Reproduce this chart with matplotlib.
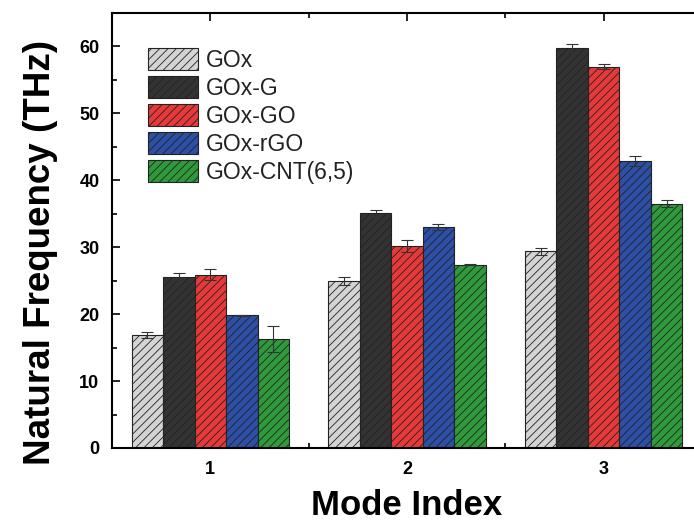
import numpy as np
import matplotlib
matplotlib.use('Agg')
import matplotlib.pyplot as plt
from matplotlib.ticker import MultipleLocator

plt.rcParams['font.family'] = ['Liberation Sans', 'DejaVu Sans']
plt.rcParams['hatch.linewidth'] = 0.6
plt.rcParams['hatch.color'] = '#222222'

modes = [1, 2, 3]
series = ['GOx', 'GOx-G', 'GOx-GO', 'GOx-rGO', 'GOx-CNT(6,5)']
colors = ['#d4d4d4', '#333333', '#e8393a', '#2d4fa6', '#2f9a3b']

values = [
    [16.9, 24.9, 29.4],
    [25.6, 35.1, 59.8],
    [25.9, 30.2, 57.0],
    [19.8, 33.0, 42.9],
    [16.3, 27.4, 36.5],
]
errors = [
    [0.4, 0.6, 0.5],
    [0.5, 0.5, 0.6],
    [0.8, 0.9, 0.4],
    [0.1, 0.4, 0.7],
    [2.0, 0.1, 0.5],
]

fig = plt.figure(figsize=(6.94, 5.22), dpi=100)
# the original picture is cropped on the right, so the axes run past the edge
ax = fig.add_axes([112 / 694, 74 / 522, 590 / 694, 435 / 522])

width = 0.16
x = np.array(modes, dtype=float)
for i, name in enumerate(series):
    pos = x + (i - 2) * width
    ax.bar(pos, values[i], width, color=colors[i], edgecolor='#222222',
           linewidth=0.8, hatch='////', label=name, zorder=2)
    ax.errorbar(pos, values[i], yerr=errors[i], fmt='none', ecolor='#333333',
                elinewidth=0.8, capsize=4, capthick=0.8, zorder=3)

ax.set_xlim(0.5, 3.5)
ax.set_ylim(0, 65)
ax.set_xticks(modes)
ax.xaxis.set_minor_locator(MultipleLocator(0.5))
ax.yaxis.set_major_locator(MultipleLocator(10))
ax.yaxis.set_minor_locator(MultipleLocator(5))

ax.tick_params(which='both', direction='in', top=True, right=True, width=1.2)
ax.tick_params(which='major', length=6, pad=9, labelsize=13)
ax.tick_params(which='minor', length=3.5)
for lab in ax.get_xticklabels() + ax.get_yticklabels():
    lab.set_fontweight('bold')
for sp in ax.spines.values():
    sp.set_linewidth(1.5)

ax.set_xlabel('Mode Index', fontsize=25, fontweight='bold', va='baseline')
ax.xaxis.set_label_coords(0.5, -0.153)
ax.set_ylabel('Natural Frequency (THz)', fontsize=26.5, fontweight='bold', va='center')
ax.yaxis.set_label_coords(-0.122, 0.45)

leg = ax.legend(loc='upper left', bbox_to_anchor=(0.045, 0.94), frameon=False,
                fontsize=16.5, handlelength=2.2, handleheight=1.05,
                labelspacing=0.2, handletextpad=0.35, borderaxespad=0)
for t in leg.get_texts():
    t.set_color('#222222')

fig.savefig('out.png', dpi=100)
